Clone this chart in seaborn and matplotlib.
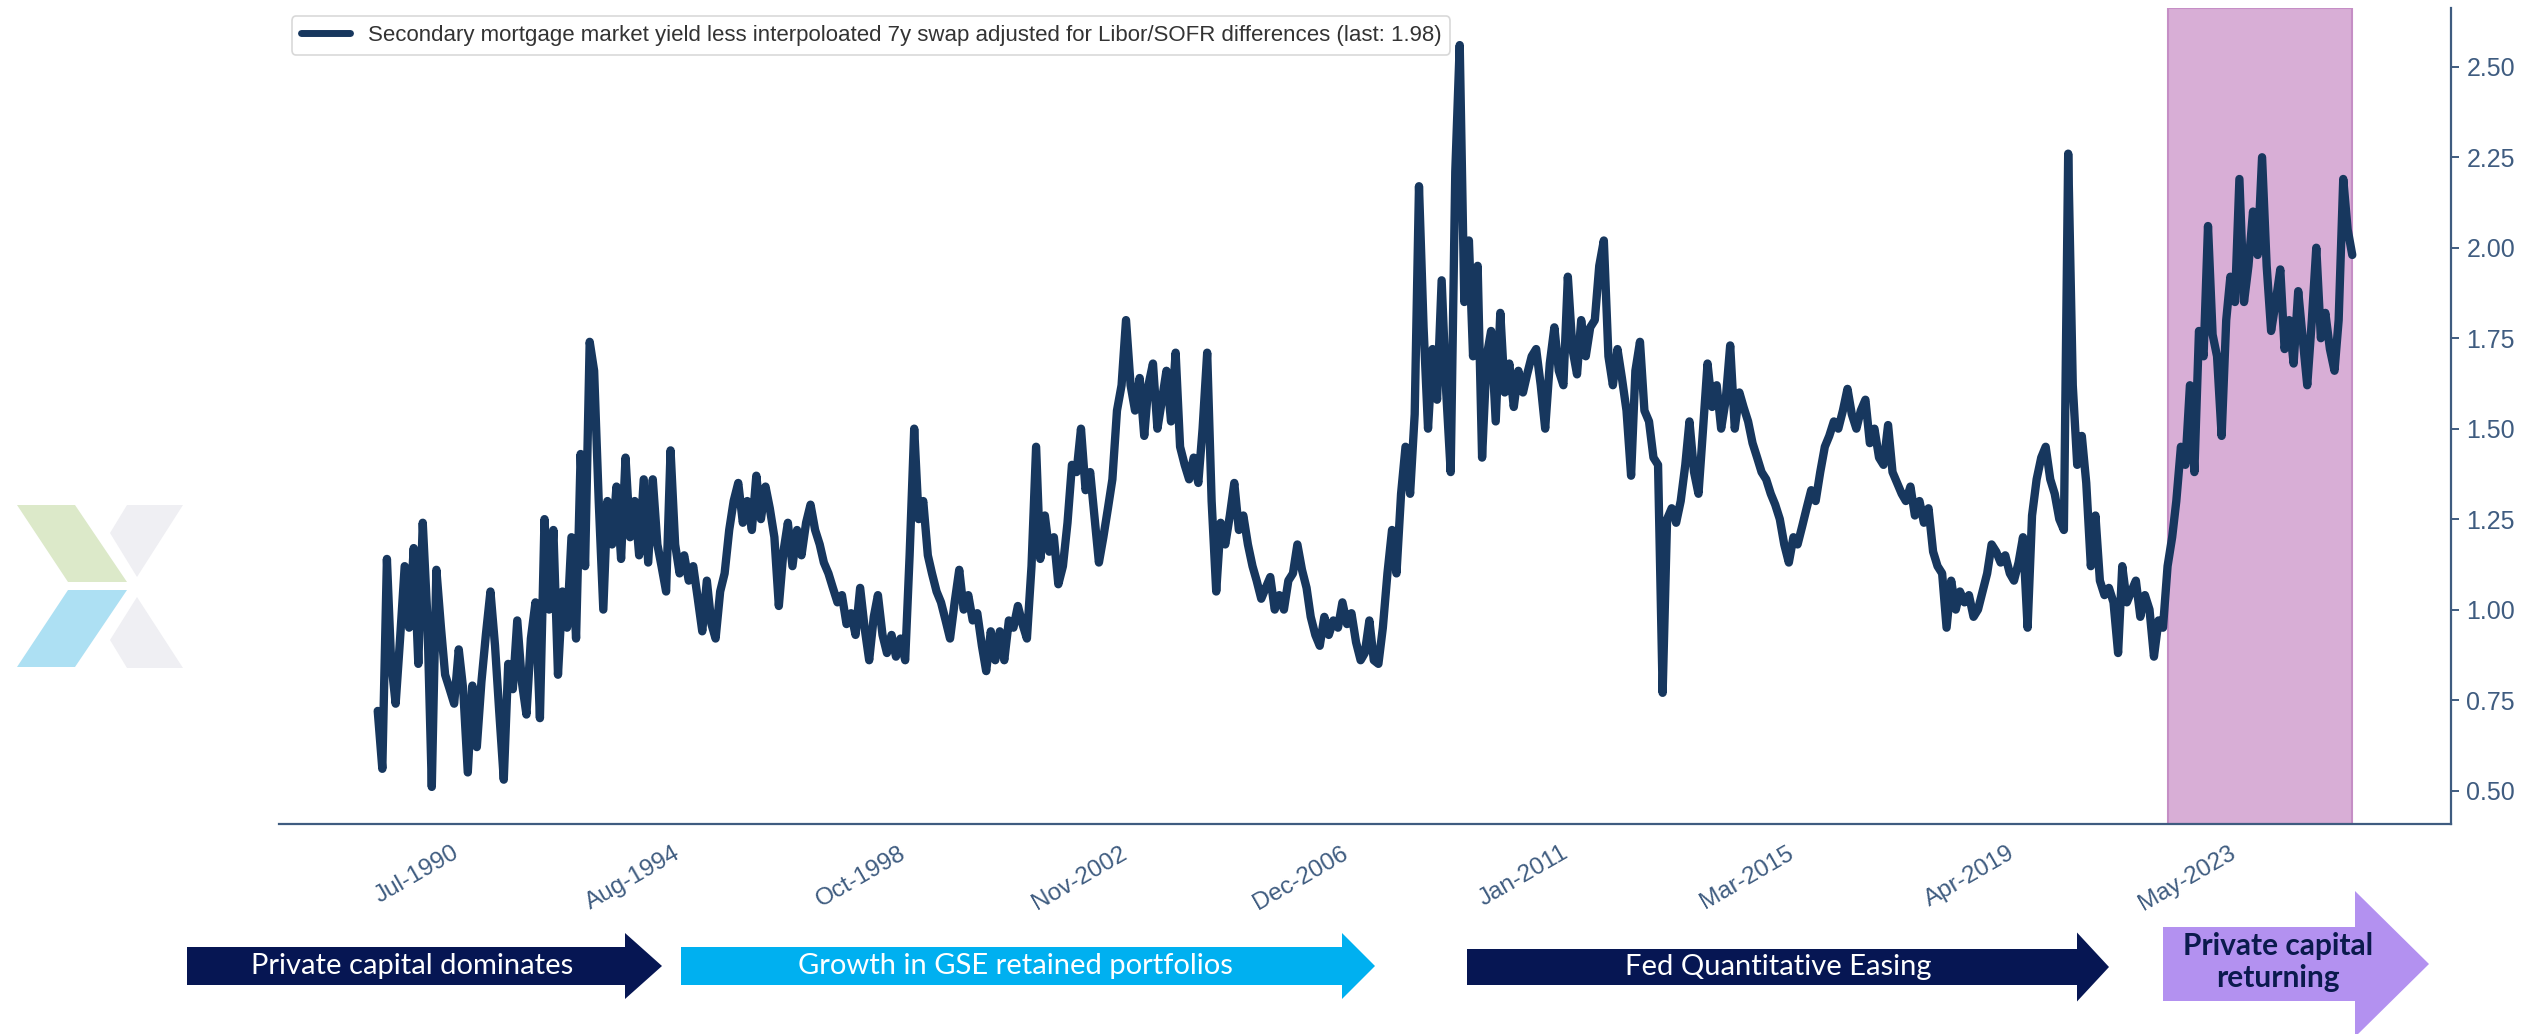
import pandas as pd
import seaborn as sns
import matplotlib.pyplot as plt
from matplotlib.patches import Polygon

# monthly readings of the spread, first value is Dec-1988
start_month = '1988-12-01'
spread = [
    0.72, 0.56, 1.14, 0.86, 0.74, 0.92, 1.12, 0.95, 1.17, 0.85, 1.24, 0.98,
    0.51, 1.11, 0.95, 0.82, 0.78, 0.74, 0.89, 0.78, 0.55, 0.79, 0.62, 0.80,
    0.93, 1.05, 0.90, 0.72, 0.53, 0.85, 0.78, 0.97, 0.80, 0.71, 0.92, 1.02,
    0.70, 1.25, 1.00, 1.22, 0.82, 1.05, 0.95, 1.20, 0.92, 1.43, 1.12, 1.74,
    1.66, 1.30, 1.00, 1.30, 1.18, 1.34, 1.14, 1.42, 1.20, 1.30, 1.15, 1.36,
    1.13, 1.36, 1.18, 1.12, 1.05, 1.44, 1.18, 1.10, 1.15, 1.08, 1.12, 1.03,
    0.94, 1.08, 0.96, 0.92, 1.05, 1.10, 1.22, 1.30, 1.35, 1.24, 1.30, 1.22,
    1.37, 1.25, 1.34, 1.28, 1.20, 1.01,
    1.16, 1.24, 1.12, 1.22, 1.15, 1.24, 1.29, 1.22, 1.18, 1.13, 1.10, 1.06,
    1.02, 1.04, 0.96, 0.99, 0.93, 1.06, 0.95, 0.86, 0.98, 1.04, 0.93, 0.88,
    0.93, 0.87, 0.92, 0.86, 1.15, 1.50, 1.25, 1.30, 1.15, 1.10, 1.05, 1.02,
    0.97, 0.92, 1.02, 1.11, 1.00, 1.04, 0.97, 0.99, 0.90, 0.83, 0.94, 0.86,
    0.94, 0.86, 0.97, 0.95, 1.01, 0.96, 0.92, 1.12, 1.45, 1.14, 1.26, 1.16,
    1.20, 1.07, 1.12, 1.24, 1.40, 1.38, 1.50, 1.33, 1.38, 1.26, 1.13, 1.20,
    1.28, 1.36, 1.55, 1.62, 1.80, 1.62, 1.55, 1.64, 1.48, 1.62, 1.68, 1.50,
    1.58, 1.66, 1.52, 1.71, 1.45,
    1.40, 1.36, 1.42, 1.35, 1.50, 1.71, 1.30, 1.05, 1.24, 1.18, 1.26, 1.35,
    1.22, 1.26, 1.18, 1.12, 1.08, 1.03, 1.06, 1.09, 1.00, 1.04, 1.00, 1.08,
    1.10, 1.18, 1.11, 1.06, 0.98, 0.93, 0.90, 0.98, 0.93, 0.97, 0.95, 1.02,
    0.96, 0.99, 0.91, 0.86, 0.88, 0.97, 0.86, 0.85, 0.95, 1.10, 1.22, 1.10,
    1.32, 1.45, 1.32, 1.54, 2.17, 1.78, 1.50, 1.72, 1.58, 1.91, 1.60, 1.38,
    2.21, 2.56, 1.85, 2.02, 1.70, 1.95, 1.42, 1.70, 1.77, 1.52, 1.82, 1.60,
    1.68, 1.56, 1.66, 1.60, 1.65, 1.70, 1.72, 1.62, 1.50, 1.68, 1.78, 1.66,
    1.62, 1.92, 1.72, 1.65, 1.80, 1.70, 1.78,
    1.80, 1.95, 2.02, 1.70, 1.62,
    1.72, 1.64, 1.55, 1.37, 1.66, 1.74, 1.55, 1.52, 1.42, 1.40, 0.77, 1.25,
    1.28, 1.24, 1.30, 1.40, 1.52, 1.38, 1.32, 1.50, 1.68, 1.56, 1.62, 1.50,
    1.58, 1.73, 1.50, 1.60, 1.56, 1.52, 1.46, 1.42, 1.38, 1.36, 1.32, 1.29,
    1.25, 1.18, 1.13, 1.20, 1.18, 1.23, 1.28, 1.33, 1.30, 1.38, 1.45, 1.48,
    1.52, 1.50, 1.55, 1.61, 1.54, 1.50, 1.55, 1.58, 1.46, 1.50, 1.42, 1.40,
    1.51, 1.38, 1.35, 1.32, 1.30, 1.34, 1.26, 1.30, 1.24, 1.28, 1.16, 1.12,
    1.10, 0.95, 1.08, 1.00, 1.05, 1.02, 1.04, 0.98, 1.00, 1.05, 1.10, 1.18,
    1.16, 1.13, 1.15, 1.10,
    1.08, 1.13, 1.20, 0.95, 1.26, 1.36, 1.42, 1.45, 1.36, 1.32, 1.25, 1.22,
    2.26, 1.62, 1.40, 1.48, 1.35, 1.12, 1.26, 1.08, 1.04, 1.06, 1.02, 0.88,
    1.12, 1.02, 1.05, 1.08, 0.98, 1.04, 1.00, 0.87, 0.97, 0.95, 1.12, 1.20,
    1.30, 1.45, 1.40, 1.62, 1.38, 1.77, 1.70, 2.06, 1.76, 1.70, 1.48, 1.80,
    1.92, 1.85, 2.19, 1.85, 1.95, 2.10, 1.98, 2.25, 1.95, 1.77, 1.85, 1.94,
    1.72, 1.80, 1.68, 1.88, 1.75, 1.62, 1.80, 2.00, 1.75, 1.82, 1.72, 1.66,
    1.80, 2.19, 2.05, 1.98,
]

tick_labels = ['Jul-1990', 'Aug-1994', 'Oct-1998', 'Nov-2002', 'Dec-2006',
               'Jan-2011', 'Mar-2015', 'Apr-2019', 'May-2023']
y_ticks = [0.50, 0.75, 1.00, 1.25, 1.50, 1.75, 2.00, 2.25, 2.50]
shade_start = '2022-01-01'
series_name = ('Secondary mortgage market yield less interpoloated 7y swap '
               'adjusted for Libor/SOFR differences (last: 1.98)')
eras = ['Private capital dominates', 'Growth in GSE retained portfolios',
        'Fed Quantitative Easing', 'Private capital\nreturning']

line_color = '#17375e'
axis_color = '#3f5c80'

sns.set_theme(style='white')
plt.rcParams['font.family'] = ['Liberation Sans', 'DejaVu Sans']

df = pd.DataFrame({'date': pd.date_range(start_month, periods=len(spread), freq='MS'),
                   'spread': spread})

fig = plt.figure(figsize=(25.44, 10.34), dpi=100)
ax = fig.add_axes([279 / 2544, 1 - 824 / 1034, (2451 - 279) / 2544, (824 - 8) / 1034])

ax.axvspan(pd.Timestamp(shade_start), df['date'].iloc[-1], facecolor='#d8aed6',
           edgecolor='#c58ec5', lw=1.5, zorder=0)
sns.lineplot(data=df, x='date', y='spread', ax=ax, color=line_color, lw=6,
             label=series_name, zorder=3)

ax.set_xlabel('')
ax.set_ylabel('')
ax.set_xticks(pd.to_datetime(tick_labels, format='%b-%Y'))
ax.set_xticklabels(tick_labels, rotation=30, ha='right')
ax.set_yticks(y_ticks)
ax.set_yticklabels([f'{v:.2f}' for v in y_ticks])
ax.yaxis.tick_right()

for side in ['top', 'left']:
    ax.spines[side].set_visible(False)
for side in ['bottom', 'right']:
    ax.spines[side].set_color(axis_color)
    ax.spines[side].set_linewidth(1.6)

ax.tick_params(axis='x', length=0, pad=13, labelsize=17.5, labelcolor=axis_color)
ax.tick_params(axis='y', length=6, width=1.4, color=axis_color, pad=5,
               labelsize=18, labelcolor=axis_color)

leg = ax.legend(loc='upper left', bbox_to_anchor=(0.006, 0.99), borderaxespad=0,
                fontsize=16, frameon=True, fancybox=True, handlelength=2.2)
leg.get_frame().set_edgecolor('#cfcfcf')
leg.get_frame().set_linewidth(1.2)
for h in leg.get_lines():
    h.set_linewidth(5)
for t in leg.get_texts():
    t.set_color('#333333')

# overlay in pixel units for the era arrows and the logo
deco = fig.add_axes([0, 0, 1, 1], zorder=5)
deco.set_xlim(0, 2544)
deco.set_ylim(1034, 0)
deco.axis('off')
deco.patch.set_alpha(0)


def era_arrow(x0, xb, xt, yc, body, head, color):
    pts = [(x0, yc - body / 2), (xb, yc - body / 2), (xb, yc - head / 2), (xt, yc),
           (xb, yc + head / 2), (xb, yc + body / 2), (x0, yc + body / 2)]
    deco.add_patch(Polygon(pts, closed=True, facecolor=color, edgecolor='none'))


era_arrow(187, 625, 662, 966, 38, 66, '#061653')
era_arrow(681, 1342, 1375, 966, 38, 66, '#00b0f0')
era_arrow(1467, 2077, 2109, 967, 36, 69, '#061653')
era_arrow(2163, 2355, 2429, 964, 74, 146, '#b391f0')

deco.text(412, 966, eras[0], color='white', fontsize=21, family='Lato',
          ha='center', va='center')
deco.text(1015, 966, eras[1], color='white', fontsize=21, family='Lato',
          ha='center', va='center')
deco.text(1778, 967, eras[2], color='white', fontsize=21, family='Lato',
          ha='center', va='center')
deco.text(2278, 962, eras[3], color='#0b1a4d', fontsize=21.5, family='Lato',
          fontweight='bold', ha='center', va='center', linespacing=1.15)

# faded logo on the left
logo = [
    ([(17, 505), (75, 505), (127, 582), (68, 582)], '#dce9c9'),
    ([(68, 590), (127, 590), (75, 667), (17, 667)], '#ade0f3'),
    ([(127, 505), (183, 505), (137, 577), (110, 533)], '#efeff3'),
    ([(110, 640), (137, 597), (183, 668), (127, 668)], '#efeff3'),
]
for pts, col in logo:
    deco.add_patch(Polygon(pts, closed=True, facecolor=col, edgecolor='none'))

fig.savefig('out.png', dpi=100)
